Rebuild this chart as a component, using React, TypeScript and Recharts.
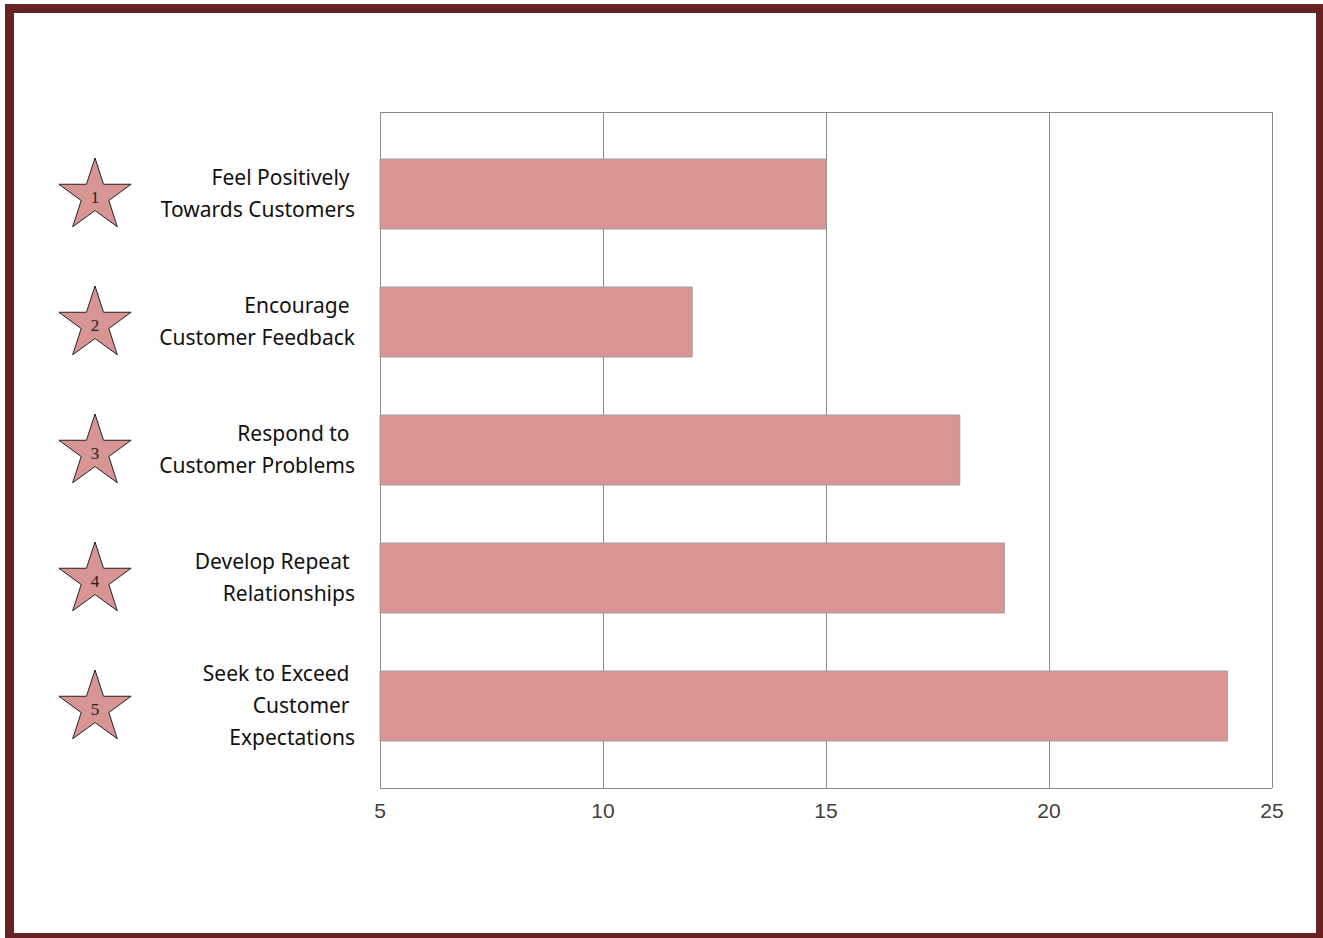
import { BarChart, Bar, XAxis, YAxis, CartesianGrid } from "recharts";

// data
const categories = [
  ["Feel Positively ", "Towards Customers"],
  ["Encourage ", "Customer Feedback"],
  ["Respond to ", "Customer Problems"],
  ["Develop Repeat ", "Relationships"],
  ["Seek to Exceed ", "Customer ", "Expectations"],
];
const scores = [15, 12, 18, 19, 24];
const xTicks = [5, 10, 15, 20, 25];

const rows = categories.map((lines, i) => ({
  name: String(i + 1),
  lines,
  value: scores[i],
}));

const pink = "#d99594";
const grey = "#8a8a8a";
const maroon = "#672324";

function starPath(cx: number, cy: number, r: number) {
  const inner = r * 0.382;
  const pts: string[] = [];
  for (let k = 0; k < 10; k++) {
    const rad = k % 2 === 0 ? r : inner;
    const a = -Math.PI / 2 + (k * Math.PI) / 5;
    pts.push(`${cx + rad * Math.cos(a)},${cy + rad * Math.sin(a)}`);
  }
  return "M" + pts.join("L") + "Z";
}

function CategoryTick(props: any) {
  const { x, y, payload } = props;
  const idx = Number(payload.value) - 1;
  const lines = categories[idx] || [];
  const lh = 32;
  const start = y - ((lines.length - 1) * lh) / 2;
  const sx = x - 260;
  const sy = y + 2;
  return (
    <g>
      <path d={starPath(sx, sy, 38)} fill={pink} stroke="#222" strokeWidth={1} />
      <text
        x={sx}
        y={sy + 1}
        dy="0.35em"
        textAnchor="middle"
        fontFamily="'Liberation Serif', serif"
        fontSize={17}
        fill="#222"
      >
        {payload.value}
      </text>
      {lines.map((l, i) => (
        <text
          key={i}
          x={x}
          y={start + i * lh}
          dy="0.35em"
          textAnchor="end"
          fontFamily="'Noto Sans', sans-serif"
          fontSize={21}
          fill="#111"
          style={{ whiteSpace: "pre" }}
        >
          {l}
        </text>
      ))}
    </g>
  );
}

export default function App() {
  return (
    <div
      style={{
        position: "absolute",
        left: 0,
        top: 0,
        width: 1323,
        height: 938,
        background: "#fff",
        overflow: "hidden",
      }}
    >
      <div
        style={{
          position: "absolute",
          left: 5,
          top: 4,
          width: 1320,
          height: 938,
          boxSizing: "border-box",
          border: `9px solid ${maroon}`,
        }}
      />
      <div style={{ position: "absolute", left: 0, top: 0 }}>
        <BarChart
          width={1323}
          height={938}
          data={rows}
          layout="vertical"
          margin={{ top: 112, right: 51, bottom: 110, left: 0 }}
        >
          <CartesianGrid
            stroke={grey}
            strokeWidth={1}
            shapeRendering="crispEdges"
            horizontalCoordinatesGenerator={(p: any) => [
              p.offset.top,
              p.offset.top + p.offset.height,
            ]}
          />
          <XAxis
            type="number"
            domain={[5, 25]}
            ticks={xTicks}
            axisLine={false}
            tickLine={false}
            tickSize={0}
            tickMargin={15}
            height={40}
            tick={{ fill: "#404040", fontSize: 21, fontFamily: "'Liberation Sans', Arial, sans-serif" }}
          />
          <YAxis
            type="category"
            dataKey="name"
            width={380}
            axisLine={false}
            tickLine={false}
            tickSize={0}
            tickMargin={25}
            padding={{ top: 18, bottom: 18 }}
            tick={<CategoryTick />}
            interval={0}
          />
          <Bar
            dataKey="value"
            barSize={70}
            fill={pink}
            stroke="#a0a0a0"
            strokeWidth={1}
            isAnimationActive={false}
          />
        </BarChart>
      </div>
    </div>
  );
}
